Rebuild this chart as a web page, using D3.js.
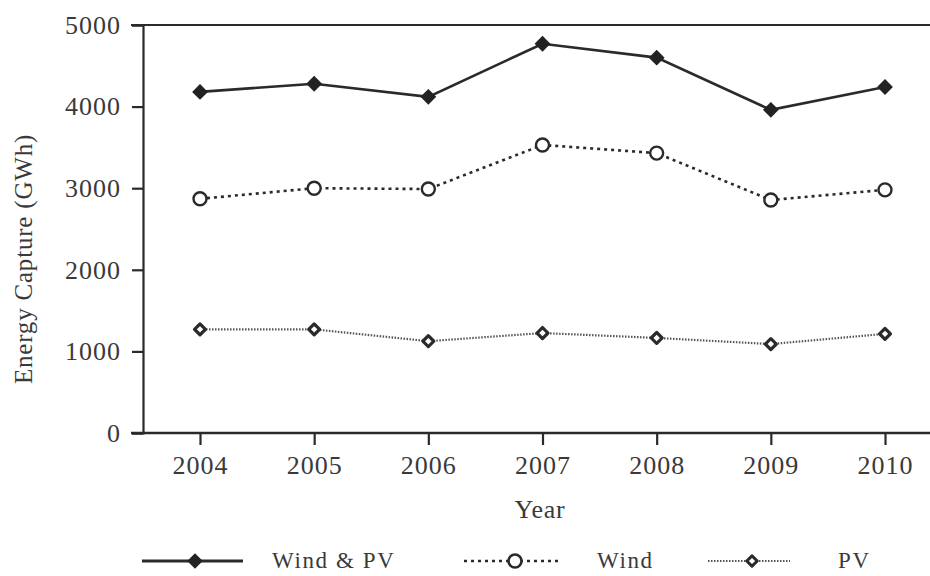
<!DOCTYPE html>
<html>
<head>
<meta charset="utf-8">
<script src="https://cdn.jsdelivr.net/npm/d3@7"></script>
<style>
  html, body { margin: 0; padding: 0; background: #fff; }
  svg { display: block; }
  text { font-family: "Liberation Serif", "DejaVu Serif", serif; fill: #3a3a3a; }
</style>
</head>
<body>
<svg id="chart" width="930" height="576"></svg>
<script>
const years = [2004, 2005, 2006, 2007, 2008, 2009, 2010];
const windPV = [4180, 4280, 4120, 4770, 4600, 3960, 4240];
const wind   = [2870, 3000, 2990, 3530, 3430, 2855, 2980];
const pv     = [1270, 1270, 1125, 1225, 1165, 1090, 1215];
const yTicks = [0, 1000, 2000, 3000, 4000, 5000];
const seriesNames = ["Wind & PV", "Wind", "PV"];

(function () {
const svg = d3.select("#chart");
const mLeft = 143, mRight = 930, mTop = 25, mBottom = 433;

const x = d3.scalePoint().domain(years).range([200, 885]);
const y = d3.scaleLinear().domain([0, 5000]).range([mBottom, mTop]);

const ink = "#2a2a2a";

// Y axis
const yAxis = svg.append("g").attr("transform", `translate(${mLeft},0)`)
  .call(d3.axisLeft(y).tickValues(yTicks).tickSize(11).tickPadding(11).tickFormat(d3.format("d")));
yAxis.select(".domain").attr("stroke", ink).attr("stroke-width", 2.2);
yAxis.selectAll(".tick line").attr("stroke", ink).attr("stroke-width", 2.2);
yAxis.selectAll(".tick text").attr("font-size", 26).attr("fill", "#3a3a3a")
  .style("font-family", "'Liberation Serif', serif").attr("letter-spacing", 1);

// X axis
const xAxis = svg.append("g").attr("transform", `translate(0,${mBottom})`)
  .call(d3.axisBottom(x).tickSize(12).tickPadding(11).tickFormat(d3.format("d")));
xAxis.select(".domain").remove();
xAxis.selectAll(".tick line").attr("stroke", ink).attr("stroke-width", 2.2);
xAxis.selectAll(".tick text").attr("font-size", 26).attr("fill", "#3a3a3a")
  .style("font-family", "'Liberation Serif', serif").attr("letter-spacing", 1);

// baseline & top frame line extending full width
svg.append("line").attr("x1", 131).attr("x2", mRight).attr("y1", y(0)).attr("y2", y(0))
  .attr("stroke", ink).attr("stroke-width", 2.4);
svg.append("line").attr("x1", 131).attr("x2", mRight).attr("y1", y(5000)).attr("y2", y(5000))
  .attr("stroke", ink).attr("stroke-width", 2.2);

// axis titles
svg.append("text").attr("transform", `translate(32,${(mTop + mBottom) / 2 + 30}) rotate(-90)`)
  .attr("text-anchor", "middle").attr("font-size", 25).attr("letter-spacing", 0.8)
  .text("Energy Capture (GWh)");
svg.append("text").attr("x", 540).attr("y", 518).attr("text-anchor", "middle")
  .attr("font-size", 26).attr("letter-spacing", 0.8).text("Year");

const line = d3.line().x((d, i) => x(years[i])).y(d => y(d));
const diamond = a => d3.symbol(d3.symbolSquare, a)();

// Wind & PV
svg.append("path").datum(windPV).attr("d", line).attr("fill", "none")
  .attr("stroke", ink).attr("stroke-width", 2.6);
svg.selectAll(".m1").data(windPV).enter().append("path")
  .attr("transform", (d, i) => `translate(${x(years[i])},${y(d)}) rotate(45)`)
  .attr("d", diamond(125)).attr("fill", "#222");

// Wind
svg.append("path").datum(wind).attr("d", line).attr("fill", "none")
  .attr("stroke", ink).attr("stroke-width", 2.6).attr("stroke-dasharray", "3,4");
svg.selectAll(".m2").data(wind).enter().append("circle")
  .attr("cx", (d, i) => x(years[i])).attr("cy", d => y(d)).attr("r", 6.5)
  .attr("fill", "#fff").attr("stroke", ink).attr("stroke-width", 2.4);

// PV
svg.append("path").datum(pv).attr("d", line).attr("fill", "none")
  .attr("stroke", "#555").attr("stroke-width", 2.2).attr("stroke-dasharray", "1.5,1.5");
svg.selectAll(".m3").data(pv).enter().append("path")
  .attr("transform", (d, i) => `translate(${x(years[i])},${y(d)}) rotate(45)`)
  .attr("d", diamond(60)).attr("fill", "#fff")
  .attr("stroke", ink).attr("stroke-width", 3.2).attr("stroke-linejoin", "round");

// Legend
const ly = 561;
const leg = [
  { name: seriesNames[0], x1: 142, x2: 243, mx: 195, lx: 272 },
  { name: seriesNames[1], x1: 464, x2: 562, mx: 515, lx: 597 },
  { name: seriesNames[2], x1: 708, x2: 790, mx: 752, lx: 838 }
];
svg.append("line").attr("x1", leg[0].x1).attr("x2", leg[0].x2).attr("y1", ly).attr("y2", ly)
  .attr("stroke", ink).attr("stroke-width", 2.8);
svg.append("path").attr("transform", `translate(${leg[0].mx},${ly}) rotate(45)`)
  .attr("d", diamond(120)).attr("fill", "#222");
svg.append("line").attr("x1", leg[1].x1).attr("x2", leg[1].x2).attr("y1", ly).attr("y2", ly)
  .attr("stroke", ink).attr("stroke-width", 2.6).attr("stroke-dasharray", "3,4");
svg.append("circle").attr("cx", leg[1].mx).attr("cy", ly).attr("r", 6.5)
  .attr("fill", "#fff").attr("stroke", ink).attr("stroke-width", 2.6);
svg.append("line").attr("x1", leg[2].x1).attr("x2", leg[2].x2).attr("y1", ly).attr("y2", ly)
  .attr("stroke", "#555").attr("stroke-width", 2.2).attr("stroke-dasharray", "1.5,1.5");
svg.append("path").attr("transform", `translate(${leg[2].mx},${ly}) rotate(45)`)
  .attr("d", diamond(55)).attr("fill", "#fff")
  .attr("stroke", ink).attr("stroke-width", 3).attr("stroke-linejoin", "round");

svg.selectAll(".legtext").data(leg).enter().append("text")
  .attr("x", d => d.lx).attr("y", ly + 7).attr("font-size", 23).attr("letter-spacing", 1.6)
  .text(d => d.name);
})();
</script>
</body>
</html>
